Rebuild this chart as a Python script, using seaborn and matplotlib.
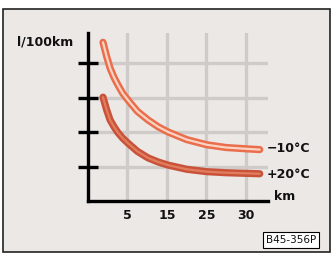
import matplotlib
matplotlib.use("Agg")
import matplotlib.pyplot as plt
import seaborn as sns
import pandas as pd
from matplotlib.patches import Rectangle

sns.set_style("white")
plt.rcParams['font.family'] = ['DejaVu Sans']

# data (positions on evenly spaced grid, labels 5/15/25/30)
x_pos = [0.38, 0.47, 0.56, 0.66, 0.76, 0.88, 1.01, 1.25, 1.52, 1.78, 2.03, 2.5, 3.01, 3.5, 4.05, 4.35]
cold = [4.6, 4.2, 3.85, 3.58, 3.36, 3.12, 2.93, 2.6, 2.35, 2.15, 2.0, 1.78, 1.63, 1.55, 1.51, 1.49]
warm = [3.01, 2.65, 2.35, 2.15, 1.98, 1.82, 1.68, 1.44, 1.25, 1.13, 1.04, 0.92, 0.85, 0.82, 0.8, 0.79]
xtick_pos = [1, 2, 3, 4]
xtick_labels = ["5", "15", "25", "30"]
ytick_pos = [1, 2, 3, 4]
series_labels = ["\u221210\u00b0C", "+20\u00b0C"]

W, H = 334, 258
fig = plt.figure(figsize=(W / 100, H / 100), dpi=100)
fig.patch.set_facecolor("white")
fig.patches.append(Rectangle((3 / W, 1 - 252 / H), 327 / W, 243 / H,
                             transform=fig.transFigure, facecolor="#ebe8e6",
                             edgecolor="#222222", linewidth=1.2, zorder=-10))

ax = fig.add_axes([88 / W, 1 - 201 / H, 180 / W, 168 / H])
ax.set_zorder(2)
ax.set_axisbelow(False)
ax.set_facecolor("none")
ax.set_xlim(0, 4.56)
ax.set_ylim(0, 4.87)

for xp in xtick_pos:
    ax.axvline(xp, color="#cfcbc8", lw=2.4, zorder=0.3)
for yp in ytick_pos:
    ax.axhline(yp, color="#cfcbc8", lw=2.4, zorder=0.3)

df = pd.DataFrame({"x": x_pos + x_pos,
                   "y": cold + warm,
                   "s": [series_labels[0]] * len(x_pos) + [series_labels[1]] * len(x_pos)})

styles = {series_labels[0]: ("#ea6e4c", "#fbd3c2"),
          series_labels[1]: ("#c9533a", "#e27e5e")}
for s, (outer, inner) in styles.items():
    sub = df[df.s == s]
    sns.lineplot(data=sub, x="x", y="y", ax=ax, color=outer, lw=5.2, legend=False,
                 zorder=3, solid_capstyle="round", solid_joinstyle="round", sort=False)
    sns.lineplot(data=sub, x="x", y="y", ax=ax, color=inner, lw=1.6, legend=False,
                 zorder=4, solid_capstyle="round", solid_joinstyle="round", sort=False)

for sp in ["top", "right"]:
    ax.spines[sp].set_visible(False)
for sp in ["left", "bottom"]:
    ax.spines[sp].set_linewidth(2.4)
    ax.spines[sp].set_color("black")
    ax.spines[sp].set_zorder(5)

ax.set_xticks(xtick_pos)
ax.set_xticklabels(xtick_labels, fontsize=9, fontweight="bold", color="#111111")
ax.set_yticks(ytick_pos)
ax.set_yticklabels([])
ax.tick_params(axis="x", length=0, pad=6, bottom=False)
ax.tick_params(axis="y", left=True, direction="inout", length=14, width=2.4, color="black")
ax.set_xlabel("")
ax.set_ylabel("")

tk = dict(fontsize=9, fontweight="bold", color="#111111", va="center", ha="left")
fig.text(17 / W, 1 - 42 / H, "l/100km", **tk)
fig.text(274 / W, 1 - 197 / H, "km", **tk)
fig.text(267 / W, 1 - 149 / H, series_labels[0], **tk)
fig.text(267 / W, 1 - 174 / H, series_labels[1], **tk)
fig.text(291 / W, 1 - 240 / H, "B45-356P", fontsize=7.5, va="center", ha="center", color="#111111",
         bbox=dict(boxstyle="square,pad=0.25", facecolor="white", edgecolor="black", lw=0.8))

fig.savefig("out.png", dpi=100)
